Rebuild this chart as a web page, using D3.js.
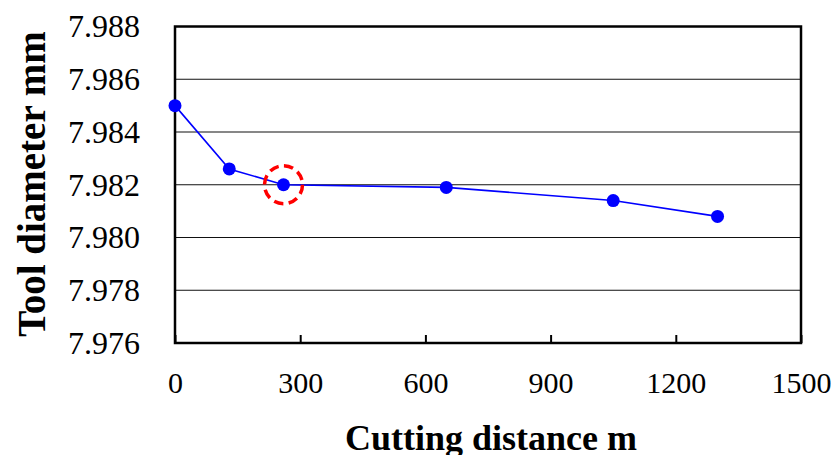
<!DOCTYPE html>
<html>
<head>
<meta charset="utf-8">
<script src="https://cdn.jsdelivr.net/npm/d3@7"></script>
<style>
  html, body { margin: 0; padding: 0; background: #fff; }
  svg { display: block; }
</style>
</head>
<body>
<svg id="chart" width="836" height="455"></svg>
<script>
// Cutting distance (m) and measured tool diameter (mm)
const distance = [0, 130, 260, 650, 1050, 1300];
const diameter = [7.9850, 7.9826, 7.9820, 7.9819, 7.9814, 7.9808];
const xTicks = [0, 300, 600, 900, 1200, 1500];
const yTicks = [7.976, 7.978, 7.980, 7.982, 7.984, 7.986, 7.988];
const highlightIndex = 2;

const serif = '"Liberation Serif", "Times New Roman", serif';
const svg = d3.select("#chart");
const margin = { left: 175, top: 26.5, right: 35, bottom: 112 };
const W = 836, H = 455;
const x = d3.scaleLinear().domain([0, 1500]).range([margin.left, W - margin.right]);
const y = d3.scaleLinear().domain([7.976, 7.988]).range([H - margin.bottom, margin.top]);

// horizontal gridlines
svg.append("g").selectAll("line").data(yTicks.slice(1, -1)).join("line")
  .attr("x1", x(0)).attr("x2", x(1500))
  .attr("y1", d => y(d)).attr("y2", d => y(d))
  .attr("stroke", "#111").attr("stroke-width", 1.2);

// x axis: ticks pointing inward, labels below
const xAxis = d3.axisBottom(x).tickValues(xTicks).tickSize(-8).tickPadding(29).tickFormat(d3.format("d"));
const gx = svg.append("g").attr("transform", `translate(0,${y(7.976)})`).call(xAxis);
gx.attr("font-family", null).attr("font-size", null);
gx.select(".domain").remove();
gx.selectAll(".tick line").attr("stroke", "#000").attr("stroke-width", 2);
gx.selectAll(".tick text").attr("dy", "0.71em")
  .style("font-family", serif).style("font-size", "30px").attr("fill", "#000");

// y axis labels
const yAxis = d3.axisLeft(y).tickValues(yTicks).tickSize(0).tickPadding(35).tickFormat(d3.format(".3f"));
const gy = svg.append("g").attr("transform", `translate(${x(0)},0)`).call(yAxis);
gy.attr("font-family", null).attr("font-size", null);
gy.select(".domain").remove();
gy.selectAll(".tick text")
  .style("font-family", serif).style("font-size", "32px").attr("fill", "#000");

// plot frame
svg.append("rect")
  .attr("x", x(0)).attr("y", y(7.988))
  .attr("width", x(1500) - x(0)).attr("height", y(7.976) - y(7.988))
  .attr("fill", "none").attr("stroke", "#000").attr("stroke-width", 2.5);

// data line and markers
const pts = distance.map((d, i) => [d, diameter[i]]);
svg.append("path").datum(pts)
  .attr("d", d3.line().x(d => x(d[0])).y(d => y(d[1])))
  .attr("fill", "none").attr("stroke", "#0000ff").attr("stroke-width", 1.6);
svg.append("g").selectAll("circle").data(pts).join("circle")
  .attr("cx", d => x(d[0])).attr("cy", d => y(d[1])).attr("r", 6.5)
  .attr("fill", "#0000ff");

// dashed ring around the highlighted measurement
svg.append("circle")
  .attr("cx", x(distance[highlightIndex])).attr("cy", y(diameter[highlightIndex]))
  .attr("r", 19).attr("fill", "none")
  .attr("stroke", "#ff0000").attr("stroke-width", 3.5)
  .attr("stroke-dasharray", "9.5,5.4");

// axis titles
svg.append("text")
  .attr("x", 491).attr("y", 450)
  .attr("text-anchor", "middle").style("font-family", serif)
  .style("font-size", "36px").style("font-weight", "bold")
  .text("Cutting distance m");
svg.append("text")
  .attr("transform", "translate(45,184) rotate(-90)")
  .attr("text-anchor", "middle").style("font-family", serif)
  .style("font-size", "39px").style("font-weight", "bold")
  .text("Tool diameter mm");
</script>
</body>
</html>
